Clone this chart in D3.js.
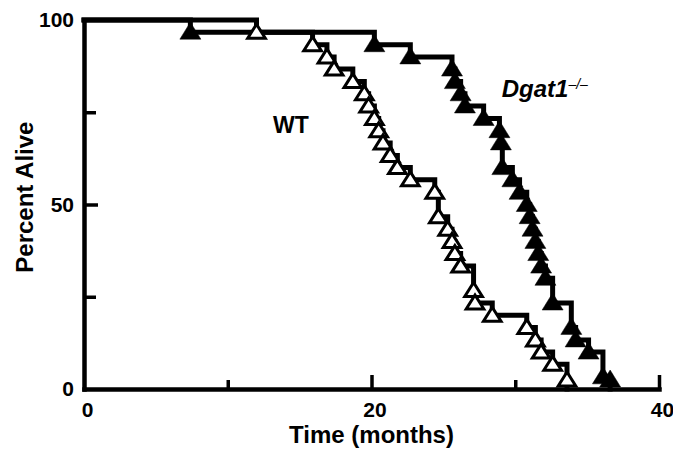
<!DOCTYPE html>
<html>
<head>
<meta charset="utf-8">
<script src="https://cdn.jsdelivr.net/npm/d3@7"></script>
<style>
	body { margin: 0; background: #fff; }
	svg { display: block; }
	text { font-family: "Liberation Sans", Arial, Helvetica, sans-serif; font-weight: bold; fill: #000; }
	.axis path, .axis line { stroke: #000; }
	.axis text { font-size: 21px; }
	.curve { fill: none; stroke: #000; stroke-width: 5; stroke-linejoin: miter; stroke-linecap: square; }
</style>
</head>
<body>
<svg id="chart" width="673" height="451"></svg>
<script>
// death times (months) and percent alive after each step
var wtTime = [12.0, 15.9, 16.9, 17.4, 18.7, 19.5, 19.8, 20.2, 20.5, 20.8, 21.3, 21.8, 22.7,
	24.4, 24.65, 25.3, 25.6, 25.8, 26.2, 27.1, 27.2, 28.4, 30.8, 31.4, 31.8, 32.6, 33.6];
var wtAlive = [96.7, 93.3, 90.0, 86.7, 83.3, 80.0, 76.7, 73.3, 70.0, 66.7, 63.3, 60.0, 56.7,
	53.3, 46.7, 43.3, 40.0, 36.7, 33.3, 26.7, 23.3, 20.0, 16.7, 13.3, 10.0, 6.7, 0];

var dgatTime = [7.4, 20.2, 22.7, 25.6, 25.8, 26.2, 26.5, 27.8, 28.9, 29.0, 29.1, 29.8, 30.3,
	30.8, 31.0, 31.2, 31.4, 31.6, 31.8, 32.1, 32.6, 33.9, 34.2, 35.1, 36.1, 36.6];
var dgatAlive = [96.7, 93.3, 90.0, 86.7, 83.3, 80.0, 76.7, 73.3, 70.0, 66.7, 60.0, 56.7, 53.3,
	50.0, 46.7, 43.3, 40.0, 36.7, 33.3, 30.0, 23.3, 16.7, 13.3, 10.0, 3.3, 0];

var xLabels = [0, 20, 40];
var xMajor = [20, 40];
var xMinor = [10, 30];
var yLabels = [0, 50, 100];
var yMajor = [50];
var yMinor = [25, 75];

document.addEventListener("DOMContentLoaded", function() {

	svg = d3.select('#chart');

	x = d3.scaleLinear().domain([0, 40]).range([84, 659]);
	y = d3.scaleLinear().domain([0, 100]).range([389, 20]);

	toPoints = function(times, alive) {
		var pts = [[0, 100]];
		times.forEach(function(t, i) { pts.push([t, alive[i]]); });
		return pts;
	};

	series = [
		{name: 'WT', pts: toPoints(wtTime, wtAlive), filled: false},
		{name: 'Dgat1', pts: toPoints(dgatTime, dgatAlive), filled: true}
	];

	// x axis
	xAxisG = svg.append('g')
		.attr('class', 'axis')
		.attr('transform', 'translate(0,' + y(0) + ')');

	xAxisG.call(d3.axisBottom(x).tickValues(xLabels).tickSize(0).tickSizeOuter(0).tickPadding(13).tickFormat(d3.format('d')));
	xAxisG.select('.domain').attr('stroke-width', 4.5).attr('stroke-linecap', 'square');
	xAxisG.selectAll('.tick text').attr('dx', 3);

	svg.append('g')
		.attr('class', 'axis')
		.attr('transform', 'translate(0,' + y(0) + ')')
		.call(d3.axisBottom(x).tickValues(xMajor).tickSize(-14).tickFormat(''))
		.call(g => g.select('.domain').remove())
		.selectAll('line').attr('stroke-width', 3.5);

	svg.append('g')
		.attr('class', 'axis')
		.attr('transform', 'translate(0,' + y(0) + ')')
		.call(d3.axisBottom(x).tickValues(xMinor).tickSize(-9).tickFormat(''))
		.call(g => g.select('.domain').remove())
		.selectAll('line').attr('stroke-width', 3.5);

	// y axis
	yAxisG = svg.append('g')
		.attr('class', 'axis')
		.attr('transform', 'translate(' + x(0) + ',0)');

	yAxisG.call(d3.axisLeft(y).tickValues(yLabels).tickSize(0).tickSizeOuter(0).tickPadding(10));
	yAxisG.select('.domain').attr('stroke-width', 4.5).attr('stroke-linecap', 'square');

	svg.append('g')
		.attr('class', 'axis')
		.attr('transform', 'translate(' + x(0) + ',0)')
		.call(d3.axisLeft(y).tickValues(yMajor).tickSize(-14).tickFormat(''))
		.call(g => g.select('.domain').remove())
		.selectAll('line').attr('stroke-width', 3.5);

	svg.append('g')
		.attr('class', 'axis')
		.attr('transform', 'translate(' + x(0) + ',0)')
		.call(d3.axisLeft(y).tickValues(yMinor).tickSize(-12).tickFormat(''))
		.call(g => g.select('.domain').remove())
		.selectAll('line').attr('stroke-width', 3.5);

	// step curves
	stepLine = d3.line()
		.x(d => x(d[0]))
		.y(d => y(d[1]))
		.curve(d3.curveStepAfter);

	svg.selectAll('path.curve')
		.data(series)
		.enter()
		.append('path')
		.attr('class', 'curve')
		.attr('d', d => stepLine(d.pts));

	// triangle markers, kept above the x axis
	markerY = function(v) { return Math.min(y(v), y(0) - 9); };

	series.forEach(function(s) {
		svg.append('g')
			.selectAll('path')
			.data(s.pts.slice(1))
			.enter()
			.append('path')
			.attr('transform', d => 'translate(' + x(d[0]) + ',' + markerY(d[1]) + ')')
			.attr('d', s.filled ? 'M0,-10L10.5,7L-10.5,7Z' : 'M0,-8L8.8,6L-8.8,6Z')
			.attr('fill', s.filled ? '#000' : '#fff')
			.attr('stroke', '#000')
			.attr('stroke-width', s.filled ? 0.5 : 3)
			.attr('stroke-linejoin', 'miter');
	});

	// labels
	svg.append('text')
		.attr('x', x(13.15))
		.attr('y', y(69.4))
		.style('font-size', '23px')
		.text('WT');

	dg = svg.append('text')
		.attr('x', x(29.06))
		.attr('y', y(79.2))
		.style('font-size', '24px')
		.style('font-style', 'italic');
	dg.append('tspan').text('Dgat1');
	dg.append('tspan')
		.attr('dy', -8)
		.style('font-size', '14px')
		.style('font-weight', 'normal')
		.text('\u2013/\u2013');

	svg.append('text')
		.attr('x', x(20))
		.attr('y', 443)
		.attr('text-anchor', 'middle')
		.style('font-size', '24px')
		.text('Time (months)');

	svg.append('text')
		.attr('transform', 'translate(33,' + y(52) + ') rotate(-90)')
		.attr('text-anchor', 'middle')
		.style('font-size', '24px')
		.text('Percent Alive');
});
</script>
</body>
</html>
